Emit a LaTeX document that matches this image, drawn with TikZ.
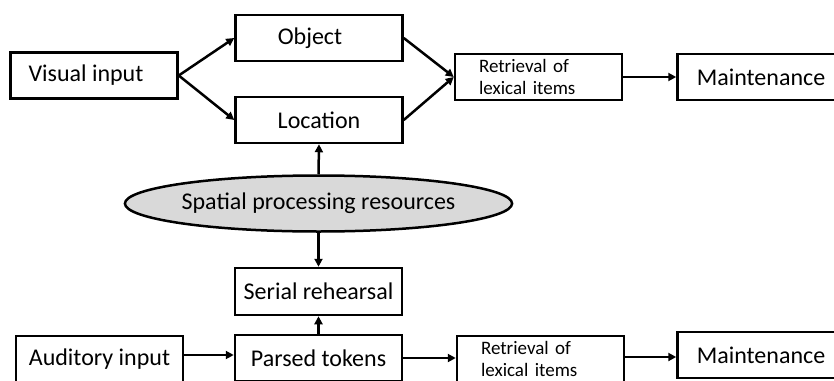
\documentclass[tikz,border=0pt]{standalone}
\usepackage{fontspec}
\setmainfont{Carlito}
\usetikzlibrary{arrows.meta,shapes.geometric}
\begin{document}
\begin{tikzpicture}[x=1pt,y=-1pt,
  box/.style={draw,line width=2.5pt,minimum width=167pt,minimum height=46pt,inner sep=0pt,
    font=\fontsize{24}{28}\selectfont},
  retr/.style={draw,line width=2.5pt,minimum height=46pt,text width=119pt,inner xsep=24pt,
    inner ysep=0pt,align=left,font=\fontsize{19}{21.5}\selectfont},
  resell/.style={draw,line width=2.5pt,ellipse,fill=black!15,minimum width=377pt,
    minimum height=56pt,inner sep=0pt,font=\fontsize{24}{28}\selectfont},
  arr/.style={line width=2.5pt,-{Triangle[length=8pt,width=8pt]}}]
\path[use as bounding box,clip] (0,0) rectangle (834,380);
% top row
\node[box] (vis) at (94,75.5) {\hspace*{-16pt}Visual input};
\node[box] (obj) at (319,38) {\hspace*{-18pt}Object};
\node[box] (loc) at (319,120) {Location};
\node[retr] (ret1) at (538.5,77) {Retrieval of\\lexical items};
\node[box] (mai1) at (761,77) {Maintenance};
% middle
\node[resell] (spa) at (318.5,203.5) {Spatial processing resources};
\node[box,minimum height=47pt] (ser) at (318.5,291.5) {Serial rehearsal};
% bottom row
\node[box] (aud) at (99.5,359) {Auditory input};
\node[box] (par) at (318.5,358) {Parsed tokens};
\node[retr] (ret2) at (540.5,359) {Retrieval of\\lexical items};
\node[box] (mai2) at (761,355) {Maintenance};
% connectors
\draw[arr] (vis.east) -- (obj.west);
\draw[arr] (vis.east) -- (loc.west);
\draw[arr] (obj.east) -- (ret1.west);
\draw[arr] (loc.east) -- (ret1.west);
\draw[arr] (ret1.east) -- (mai1.west |- ret1.east);
\draw[arr] (spa.north) -- (loc.south);
\draw[arr] (spa.south) -- (ser.north);
\draw[arr] (par.north) -- (ser.south);
\draw[arr] (aud.east |- 0,355) -- (par.west |- 0,355);
\draw[arr] (par.east |- 0,358) -- (ret2.west |- 0,358);
\draw[arr] (ret2.east |- 0,357) -- (mai2.west |- 0,357);
\end{tikzpicture}
\end{document}
